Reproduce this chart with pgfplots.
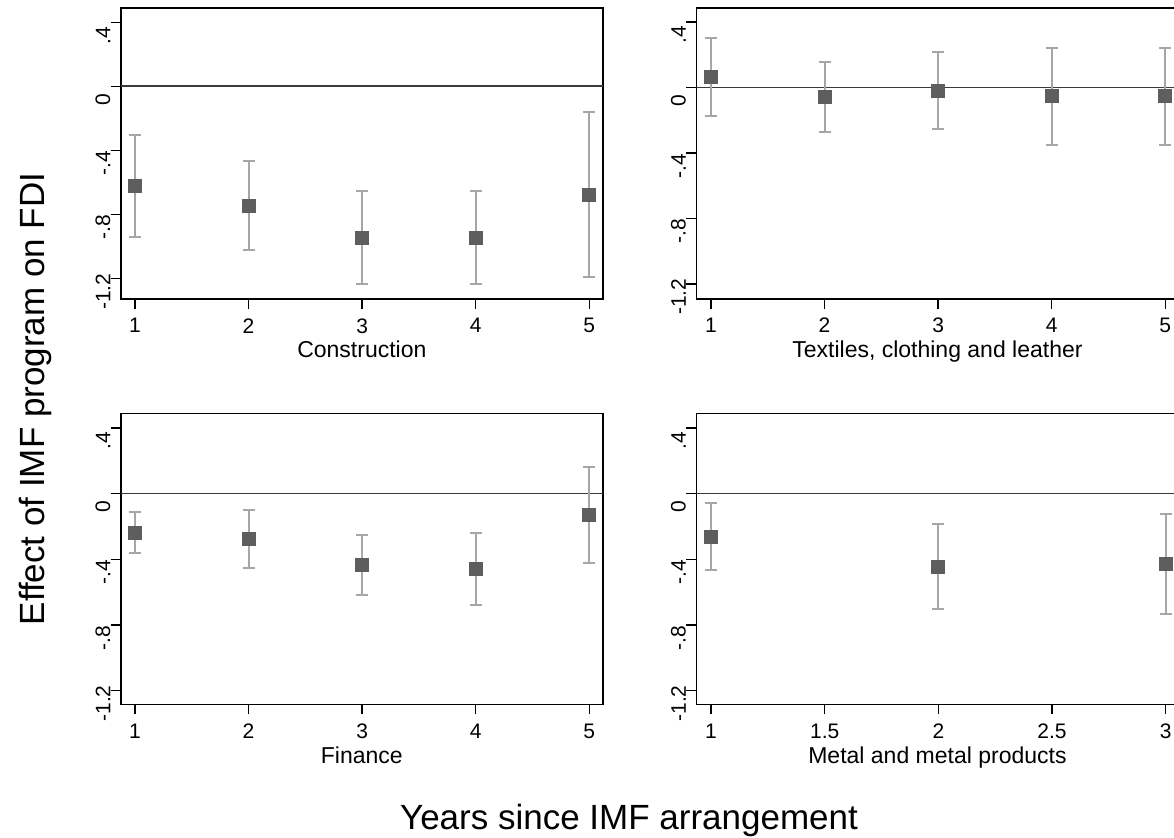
\documentclass[border=0pt]{standalone}
\usepackage{fontspec}
\setmainfont{Liberation Sans}
\usepackage{pgfplots}
\pgfplotsset{compat=1.18}
\definecolor{mk}{HTML}{5E5E5E}
\definecolor{eb}{HTML}{A6A6A6}
\definecolor{zl}{HTML}{3A3A3A}
\pgfplotsset{
  panel/.style={
    scale only axis, width=241.15pt, height=145.5pt,
    anchor=south west,
    axis line style={black, line width=0.8pt},
    tick align=outside, major tick length=5pt,
    tick style={black, line width=0.7pt},
    xtick pos=bottom, ytick pos=left,
    ytick={-1.2,-0.8,-0.4,0,0.4},
    yticklabels={-1.2,-.8,-.4,0,.4},
    yticklabel style={rotate=90, anchor=south, inner sep=0pt, xshift=-6.5pt,
      font=\fontsize{10.5}{12}\selectfont},
    xticklabel style={anchor=north, inner sep=0pt, yshift=-4.5pt,
      font=\fontsize{10.5}{12}\selectfont},
    xlabel style={font=\fontsize{11.5}{13}\selectfont,
      at={(axis description cs:0.5,0)}, anchor=base, yshift=-29.5pt},
    /pgf/number format/assume math mode=true,
  },
  est/.style={only marks, mark=square*, mark size=3.25pt, color=mk,
    mark options={fill=mk, draw=mk, line width=0pt},
    error bars/.cd, y dir=both, y explicit,
    error bar style={eb, line width=1pt},
    error mark options={rotate=90, mark size=3pt, eb, line width=1pt}},
  zero/.style={zl, line width=0.9pt, forget plot}
}
\begin{document}
\begin{tikzpicture}
\useasboundingbox (0,0) rectangle (587pt,418.5pt);
\clip (0,0) rectangle (587pt,418.5pt);

% Construction
\begin{axis}[panel, at={(60.35pt,269pt)},
  xmin=0.874, xmax=5.121, ymin=-1.327, ymax=0.489,
  xtick={1,2,3,4,5}, xticklabels={1,2,3,4,5},
  xlabel={Construction}]
\addplot[zero] coordinates {(0.874,0) (5.121,0)};
\addplot[est] coordinates {
 (1,-0.621) +- (0,0.318)
 (2,-0.744) +- (0,0.280)
 (3,-0.944) +- (0,0.291)
 (4,-0.944) +- (0,0.291)
 (5,-0.675) +- (0,0.514)
};
\end{axis}

% Textiles
\begin{axis}[panel, at={(348.15pt,269.15pt)},
  xmin=0.871, xmax=5.117, ymin=-1.2905, ymax=0.4875,
  xtick={1,2,3,4,5}, xticklabels={1,2,3,4,5},
  xlabel={Textiles, clothing and leather}]
\addplot[zero] coordinates {(0.871,0) (5.117,0)};
\addplot[est] coordinates {
 (1,0.063) +- (0,0.240)
 (2,-0.059) +- (0,0.213)
 (3,-0.020) +- (0,0.236)
 (4,-0.053) +- (0,0.296)
 (5,-0.053) +- (0,0.296)
};
\end{axis}

% Finance
\begin{axis}[panel, at={(60.35pt,66.35pt)},
  xmin=0.874, xmax=5.121, ymin=-1.284, ymax=0.489,
  xtick={1,2,3,4,5}, xticklabels={1,2,3,4,5},
  xlabel={Finance}]
\addplot[zero] coordinates {(0.874,0) (5.121,0)};
\addplot[est] coordinates {
 (1,-0.2385) +- (0,0.1245)
 (2,-0.279) +- (0,0.1765)
 (3,-0.436) +- (0,0.1825)
 (4,-0.459) +- (0,0.221)
 (5,-0.130) +- (0,0.2905)
};
\end{axis}

% Metal
\begin{axis}[panel, at={(348.15pt,66.35pt)},
  xmin=0.935, xmax=3.057, ymin=-1.284, ymax=0.489,
  xtick={1,1.5,2,2.5,3}, xticklabels={1,1.5,2,2.5,3},
  xlabel={Metal and metal products}]
\addplot[zero] coordinates {(0.935,0) (3.057,0)};
\addplot[est] coordinates {
 (1,-0.263) +- (0,0.205)
 (2,-0.4465) +- (0,0.259)
 (3,-0.428) +- (0,0.305)
};
\end{axis}

\node[anchor=base, font=\fontsize{17.5}{20}\selectfont, inner sep=0pt]
  at (314.5pt,4pt) {Years since IMF arrangement};
\node[anchor=base, rotate=90, font=\fontsize{17.5}{20}\selectfont, inner sep=0pt]
  at (22.5pt,219pt) {Effect of IMF program on FDI};
\end{tikzpicture}
\end{document}
